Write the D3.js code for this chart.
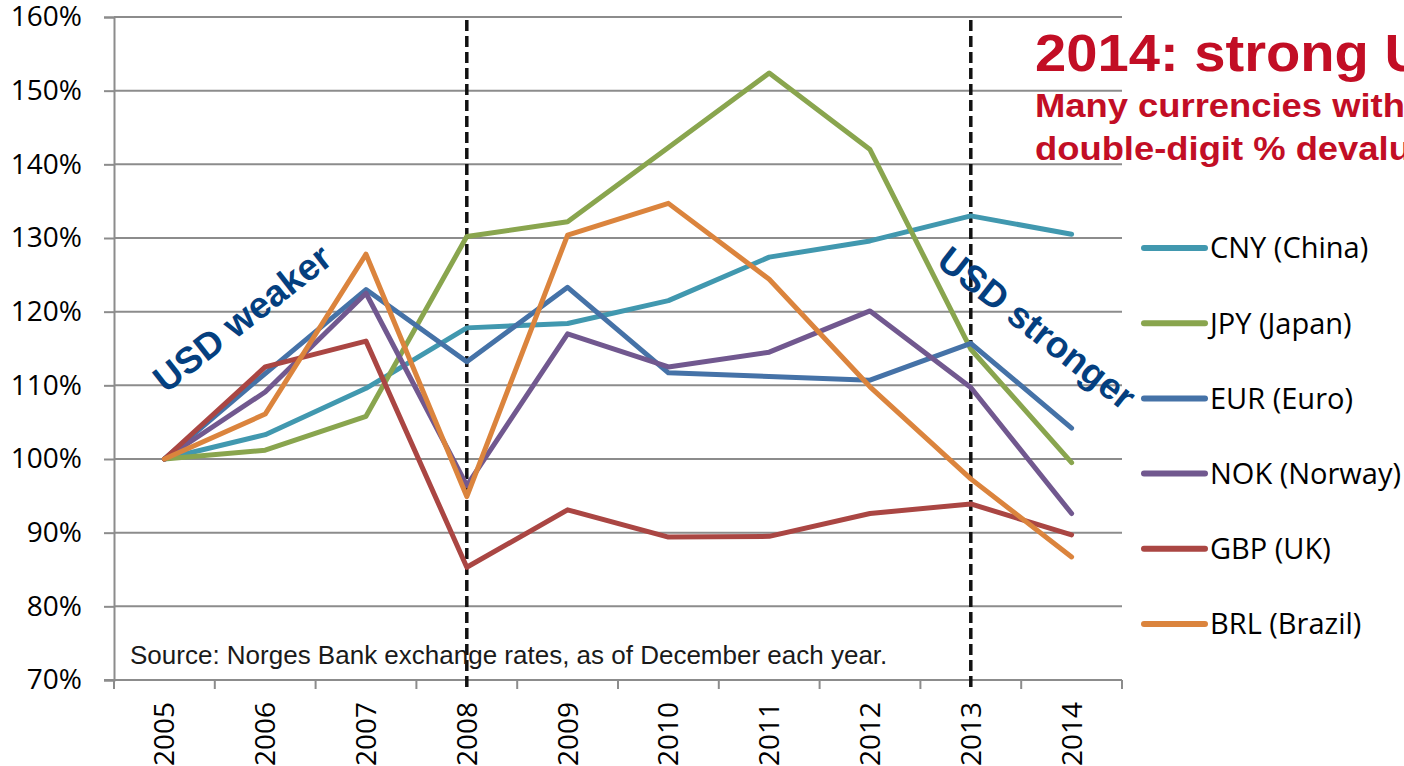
<!DOCTYPE html>
<html>
<head>
<meta charset="utf-8">
<script src="https://cdn.jsdelivr.net/npm/d3@7"></script>
<style>
  html, body { margin: 0; padding: 0; background: #fff; overflow: hidden; }
  svg { display: block; }
</style>
</head>
<body>
<svg id="chart" width="1404" height="766"></svg>
<script>
// Exchange rate vs USD, indexed to 2005 = 100%
const years = ["2005","2006","2007","2008","2009","2010","2011","2012","2013","2014"];
const cny = [100, 103.3, 109.6, 117.8, 118.4, 121.5, 127.4, 129.6, 133.0, 130.5];
const jpy = [100, 101.2, 105.8, 130.2, 132.2, 142.3, 152.4, 142.0, 114.9, 99.5];
const eur = [100, 111.6, 123.0, 113.2, 123.3, 111.7, 111.2, 110.7, 115.7, 104.2];
const nok = [100, 109.1, 122.5, 96.4, 117.0, 112.5, 114.5, 120.1, 109.7, 92.6];
const gbp = [100, 112.5, 116.0, 85.3, 93.1, 89.4, 89.5, 92.6, 93.9, 89.7];
const brl = [100, 106.1, 127.8, 94.9, 130.4, 134.7, 124.4, 109.8, 97.3, 86.7];
const seriesNames = ["CNY (China)", "JPY (Japan)", "EUR (Euro)", "NOK (Norway)", "GBP (UK)", "BRL (Brazil)"];
const seriesValues = [cny, jpy, eur, nok, gbp, brl];
const seriesColors = ["#4198AF", "#89A54E", "#4572A7", "#71588F", "#AA4643", "#DB843D"];
const yTicks = [70, 80, 90, 100, 110, 120, 130, 140, 150, 160];
const markerYears = ["2008", "2013"];

const svg = d3.select("#chart");
const plot = { left: 114, right: 1122, top: 17, bottom: 680 };

const x = d3.scaleBand().domain(years).range([plot.left, plot.right]).padding(0);
const y = d3.scaleLinear().domain([70, 160]).range([plot.bottom, plot.top]);
const cx = d => x(d) + x.bandwidth() / 2;

const axisFont = "'Open Sans', 'DejaVu Sans', sans-serif";
const arialFont = "'Liberation Sans', Arial, sans-serif";

// horizontal gridlines
svg.append("g")
  .selectAll("line")
  .data(yTicks)
  .join("line")
  .attr("x1", plot.left).attr("x2", plot.right)
  .attr("y1", d => y(d)).attr("y2", d => y(d))
  .attr("stroke", "#8c8c8c").attr("stroke-width", 2);

// y axis
const yAxis = svg.append("g")
  .attr("transform", `translate(${plot.left},0)`)
  .call(d3.axisLeft(y).tickValues(yTicks).tickSize(10).tickPadding(22).tickFormat(d => d + "%"));
yAxis.select(".domain").attr("stroke", "#8c8c8c").attr("stroke-width", 2);
yAxis.selectAll(".tick line").attr("stroke", "#8c8c8c").attr("stroke-width", 2);
yAxis.selectAll(".tick text")
  .attr("font-family", axisFont).attr("font-size", 28).attr("fill", "#000");

// x axis: labels centred on categories, tick marks between categories
const xAxis = svg.append("g")
  .attr("transform", `translate(0,${plot.bottom})`)
  .call(d3.axisBottom(x).tickSize(0).tickPadding(0));
xAxis.select(".domain").remove();
xAxis.selectAll(".tick text")
  .attr("font-family", axisFont).attr("font-size", 28).attr("fill", "#000")
  .attr("text-anchor", "end")
  .attr("transform", "rotate(-90)")
  .attr("x", -22).attr("y", 0).attr("dy", "0.36em");

const boundaries = years.map(d => x(d)).concat([plot.right]);
svg.append("line")
  .attr("x1", plot.left - 10).attr("x2", plot.right)
  .attr("y1", plot.bottom).attr("y2", plot.bottom)
  .attr("stroke", "#8c8c8c").attr("stroke-width", 2);
svg.append("g")
  .selectAll("line")
  .data(boundaries)
  .join("line")
  .attr("x1", d => d).attr("x2", d => d)
  .attr("y1", plot.bottom).attr("y2", plot.bottom + 9)
  .attr("stroke", "#8c8c8c").attr("stroke-width", 2);

// dashed markers at regime changes
svg.append("g")
  .selectAll("line")
  .data(markerYears)
  .join("line")
  .attr("x1", d => cx(d)).attr("x2", d => cx(d))
  .attr("y1", 20).attr("y2", plot.bottom + 9)
  .attr("stroke", "#111").attr("stroke-width", 3.5)
  .attr("stroke-dasharray", "11,5");

// currency lines
const line = d3.line().x((d, i) => cx(years[i])).y(d => y(d));
svg.append("g")
  .selectAll("path")
  .data(seriesValues)
  .join("path")
  .attr("d", d => line(d))
  .attr("fill", "none")
  .attr("stroke", (d, i) => seriesColors[i])
  .attr("stroke-width", 5)
  .attr("stroke-linejoin", "round")
  .attr("stroke-linecap", "round");

// source note
svg.append("text")
  .attr("x", 130).attr("y", 664)
  .attr("font-family", arialFont).attr("font-size", 26).attr("fill", "#1a1a1a")
  .text("Source: Norges Bank exchange rates, as of December each year.");

// annotations along the trend
svg.append("text")
  .attr("transform", "translate(242,318) rotate(-38)")
  .attr("text-anchor", "middle").attr("dy", "0.35em")
  .attr("font-family", arialFont).attr("font-weight", "bold").attr("font-size", 37)
  .attr("fill", "#043f7f")
  .text("USD weaker");
svg.append("text")
  .attr("transform", "translate(1037,328) rotate(38)")
  .attr("text-anchor", "middle").attr("dy", "0.35em")
  .attr("font-family", arialFont).attr("font-weight", "bold").attr("font-size", 37)
  .attr("fill", "#043f7f")
  .text("USD stronger");

// headline (runs past the right edge of the slide)
svg.append("text")
  .attr("transform", "translate(1035,71) scale(1.08,1)")
  .attr("font-family", arialFont).attr("font-weight", "bold").attr("font-size", 52)
  .attr("fill", "#c20e25")
  .text("2014: strong USD");
const sub = svg.append("g")
  .attr("transform", "translate(1035,0) scale(1.07,1)")
  .attr("font-family", arialFont).attr("font-weight", "bold").attr("font-size", 34)
  .attr("fill", "#c20e25");
sub.append("text").attr("x", 0).attr("y", 117).text("Many currencies with");
sub.append("text").attr("x", 0).attr("y", 160).text("double-digit % devaluation");

// legend
const legend = svg.append("g")
  .selectAll("g")
  .data(seriesNames)
  .join("g")
  .attr("transform", (d, i) => `translate(1144,${248 + i * 75.2})`);
legend.append("line")
  .attr("x1", 0).attr("x2", 61)
  .attr("stroke", (d, i) => seriesColors[i])
  .attr("stroke-width", 6)
  .attr("stroke-linecap", "round");
legend.append("text")
  .attr("x", 66).attr("dy", "0.36em")
  .attr("font-family", axisFont).attr("font-size", 29).attr("fill", "#000")
  .text(d => d);
</script>
</body>
</html>
